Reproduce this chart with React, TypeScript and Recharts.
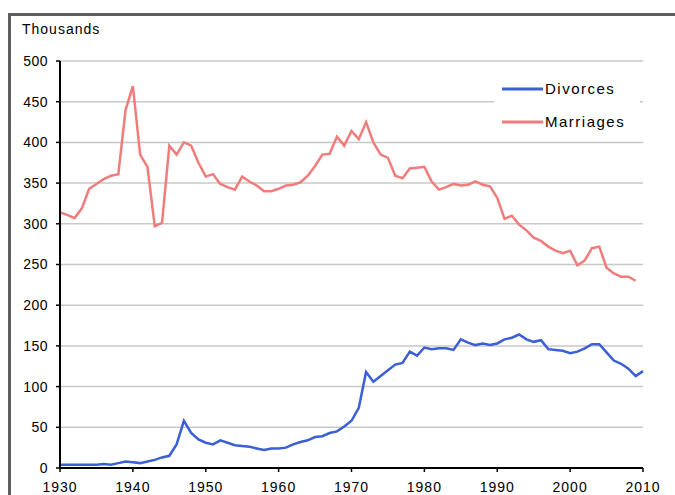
import React from 'react';
import { LineChart, Line, XAxis, YAxis, CartesianGrid, Legend } from 'recharts';

const years: number[] = [
  1930, 1931, 1932, 1933, 1934, 1935, 1936, 1937, 1938, 1939,
  1940, 1941, 1942, 1943, 1944, 1945, 1946, 1947, 1948, 1949,
  1950, 1951, 1952, 1953, 1954, 1955, 1956, 1957, 1958, 1959,
  1960, 1961, 1962, 1963, 1964, 1965, 1966, 1967, 1968, 1969,
  1970, 1971, 1972, 1973, 1974, 1975, 1976, 1977, 1978, 1979,
  1980, 1981, 1982, 1983, 1984, 1985, 1986, 1987, 1988, 1989,
  1990, 1991, 1992, 1993, 1994, 1995, 1996, 1997, 1998, 1999,
  2000, 2001, 2002, 2003, 2004, 2005, 2006, 2007, 2008, 2009,
  2010,
];

const divorces: number[] = [
  4, 4, 4, 4, 4, 4, 5, 4, 6, 8,
  7, 6, 8, 10, 13, 15, 29, 58, 43, 35,
  31, 29, 34, 31, 28, 27, 26, 24, 22, 24,
  24, 25, 29, 32, 34, 38, 39, 43, 45, 51,
  58, 74, 118, 106, 113, 120, 127, 129, 143, 138,
  148, 146, 147, 147, 145, 158, 154, 151, 153, 151,
  153, 158, 160, 164, 158, 155, 157, 146, 145, 144,
  141, 143, 147, 152, 152, 142, 132, 128, 122, 113,
  119,
];

const marriages: (number | null)[] = [
  314, 311, 307, 319, 343, 349, 355, 359, 361, 440,
  469, 385, 370, 297, 301, 396, 385, 400, 396, 375,
  358, 361, 349, 345, 342, 358, 352, 347, 340, 340,
  343, 347, 348, 351, 359, 371, 385, 386, 407, 396,
  414, 404, 425, 400, 385, 381, 359, 356, 368, 369,
  370, 352, 342, 345, 349, 347, 348, 352, 348, 346,
  332, 306, 310, 299, 292, 283, 279, 272, 267, 264,
  267, 249, 255, 270, 272, 246, 239, 235, 235, 230,
  null,
];

const xTicks: number[] = [1930, 1940, 1950, 1960, 1970, 1980, 1990, 2000, 2010];
const yTicks: number[] = [0, 50, 100, 150, 200, 250, 300, 350, 400, 450, 500];

const data = years.map((year, i) => ({
  year,
  Divorces: divorces[i],
  Marriages: marriages[i],
}));

const FONT = 'Arial, "Liberation Sans", sans-serif';

const renderLegend = (props: any) => {
  const { payload } = props;
  return (
    <div style={{ background: '#fff', width: 146, height: 74, paddingTop: 6, boxSizing: 'border-box' }}>
      {(payload || []).map((entry: any) => (
        <div key={entry.value} style={{ display: 'flex', alignItems: 'center', height: 33 }}>
          <svg width={50} height={6} style={{ display: 'block' }}>
            <line x1={8} y1={3} x2={49} y2={3} stroke={entry.color} strokeWidth={3} />
          </svg>
          <span style={{ fontFamily: FONT, fontSize: 15, letterSpacing: 1.5, color: '#000', marginLeft: 1 }}>
            {entry.value}
          </span>
        </div>
      ))}
    </div>
  );
};

export default function App() {
  return (
    <div style={{ position: 'absolute', left: 0, top: 0, width: 675, height: 495, background: '#fff', overflow: 'hidden' }}>
      <div
        style={{
          position: 'absolute',
          left: 8,
          top: 13,
          width: 700,
          height: 520,
          borderTop: '3px solid #5e5e5e',
          borderLeft: '3px solid #5e5e5e',
        }}
      />
      <div
        style={{
          position: 'absolute',
          left: 22,
          top: 21,
          fontFamily: FONT,
          fontSize: 14,
          letterSpacing: 1,
          color: '#000',
        }}
      >
        Thousands
      </div>
      <div style={{ position: 'absolute', left: 0, top: 0 }}>
        <LineChart
          width={675}
          height={495}
          data={data}
          margin={{ top: 61, right: 32, left: 0, bottom: 7 }}
        >
          <CartesianGrid vertical={false} stroke="#c8c8c8" strokeWidth={1.5} />
          <XAxis
            dataKey="year"
            type="number"
            domain={[1930, 2010]}
            ticks={xTicks}
            height={20}
            tickSize={4}
            tickMargin={10}
            axisLine={{ stroke: '#000', strokeWidth: 2 }}
            tickLine={{ stroke: '#000', strokeWidth: 1.5 }}
            tick={{ fill: '#000', fontSize: 14, fontFamily: FONT, letterSpacing: 1 }}
            interval={0}
          />
          <YAxis
            domain={[0, 500]}
            ticks={yTicks}
            width={60}
            tickSize={4}
            tickMargin={8}
            axisLine={{ stroke: '#000', strokeWidth: 2 }}
            tickLine={{ stroke: '#000', strokeWidth: 1.5 }}
            tick={{ fill: '#000', fontSize: 14, fontFamily: FONT, letterSpacing: 0.5 }}
            interval={0}
          />
          <Legend
            content={renderLegend}
            layout="vertical"
            align="center"
            verticalAlign="middle"
            wrapperStyle={{ position: 'absolute', left: 494, top: 66, width: 146 }}
          />
          <Line
            type="linear"
            dataKey="Divorces"
            stroke="#3b5fd6"
            strokeWidth={2.5}
            dot={false}
            isAnimationActive={false}
          />
          <Line
            type="linear"
            dataKey="Marriages"
            stroke="#f07c7c"
            strokeWidth={2.5}
            dot={false}
            isAnimationActive={false}
          />
        </LineChart>
      </div>
    </div>
  );
}
